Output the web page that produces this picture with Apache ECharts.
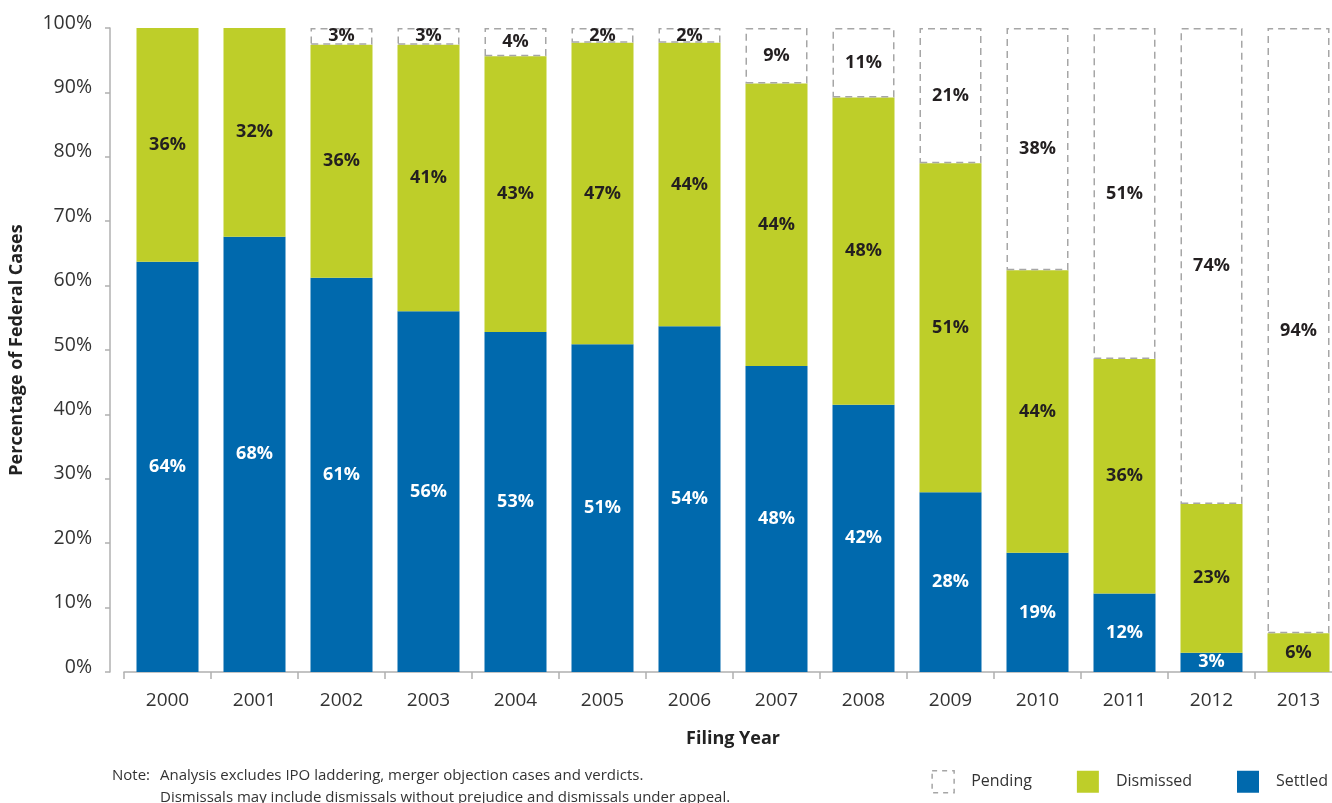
<!DOCTYPE html>
<html>
<head>
<meta charset="utf-8">
<title>Federal Cases by Filing Year</title>
<script src="https://cdn.jsdelivr.net/npm/echarts@6/dist/echarts.min.js"></script>
<style>
  html, body { margin: 0; padding: 0; background: #fff; }
  #chart { width: 1332px; height: 803px; }
</style>
</head>
<body>
<div id="chart"></div>
<script>
// filing years (x categories)
const years = ['2000', '2001', '2002', '2003', '2004', '2005', '2006',
               '2007', '2008', '2009', '2010', '2011', '2012', '2013'];

// shares of federal cases, %
const settled   = [63.7, 67.6, 61.2, 56.0, 52.8, 50.9, 53.7, 47.5, 41.5, 27.9, 18.5, 12.2, 3.0, 0];
const dismissed = [36.3, 32.4, 36.2, 41.4, 42.8, 46.8, 44.0, 43.9, 47.7, 51.1, 43.9, 36.4, 23.1, 6.0];
const pending   = [0, 0, 2.6, 2.6, 4.4, 2.3, 2.3, 8.6, 10.8, 21.0, 37.6, 51.4, 73.9, 94.0];

// y axis ticks 0..100 step 10
const yMin = 0, yMax = 100, yStep = 10;

const BLUE = '#0069ad';
const GREEN = '#bece29';
const GREY = '#a6a6a6';
const FONT = '"Open Sans", "Noto Sans", sans-serif';

// zero-size segments are not drawn
const toData = arr => arr.map(v => (v > 0 ? v : '-'));

const pctLabel = (color) => ({
    show: true,
    position: 'inside',
    color: color,
    fontFamily: FONT,
    fontWeight: 'bold',
    fontSize: 18,
    formatter: p => Math.round(p.value) + '%'
});

const chart = echarts.init(document.getElementById('chart'));

const option = {
    animation: false,
    textStyle: { fontFamily: FONT },
    grid: {
        left: 124, right: -10, top: 28, bottom: 131,
        containLabel: false,
        outerBoundsMode: 'none'
    },
    legend: {
        data: [
            { name: 'Pending', itemStyle: { color: '#fff', borderColor: GREY, borderWidth: 1.5, borderType: [5, 5] } },
            { name: 'Dismissed' },
            { name: 'Settled' }
        ],
        right: 4,
        top: 770,
        padding: 0,
        icon: 'rect',
        itemWidth: 22,
        itemHeight: 22,
        itemGap: 45,
        selectedMode: false,
        textStyle: { fontSize: 16, color: '#333', fontFamily: FONT, padding: [0, 0, 0, 12] }
    },
    xAxis: {
        type: 'category',
        data: years,
        name: 'Filing Year',
        nameLocation: 'middle',
        nameGap: 58,
        nameTextStyle: { fontSize: 18, fontWeight: 'bold', color: '#222', fontFamily: FONT },
        axisLine: { lineStyle: { color: '#b0b0b0', width: 1.5 } },
        axisTick: { show: true, length: 7, lineStyle: { color: '#b0b0b0', width: 1.5 } },
        axisLabel: { fontSize: 19, color: '#333', margin: 19, fontFamily: FONT },
        splitLine: { show: false }
    },
    yAxis: {
        type: 'value',
        min: yMin,
        max: yMax,
        interval: yStep,
        offset: 14,
        name: 'Percentage of Federal Cases',
        nameLocation: 'middle',
        nameGap: 84,
        nameTextStyle: { fontSize: 18, fontWeight: 'bold', color: '#222', fontFamily: FONT },
        axisLine: { show: true, lineStyle: { color: '#b0b0b0', width: 1.5 } },
        axisTick: { show: true, length: 5, lineStyle: { color: '#b0b0b0', width: 1.5 } },
        axisLabel: {
            fontSize: 19.5, color: '#333', margin: 18, fontFamily: FONT,
            verticalAlign: 'bottom',
            lineHeight: 10,
            formatter: '{value}%'
        },
        splitLine: { show: false }
    },
    series: [
        {
            name: 'Settled',
            type: 'bar',
            stack: 'total',
            barWidth: 62,
            data: toData(settled),
            itemStyle: { color: BLUE },
            label: pctLabel('#fff'),
            emphasis: { disabled: true }
        },
        {
            name: 'Dismissed',
            type: 'bar',
            stack: 'total',
            barWidth: 62,
            data: toData(dismissed),
            itemStyle: { color: GREEN },
            label: pctLabel('#231f20'),
            emphasis: { disabled: true }
        },
        {
            name: 'Pending',
            type: 'bar',
            stack: 'total',
            barWidth: 62,
            data: toData(pending),
            itemStyle: {
                color: '#fff',
                borderColor: GREY,
                borderWidth: 1.5,
                borderType: [7, 5]
            },
            label: pctLabel('#231f20'),
            emphasis: { disabled: true }
        }
    ],
    graphic: [
        {
            type: 'text',
            left: 112,
            top: 765,
            style: { text: 'Note:', fontSize: 15, lineHeight: 22, fill: '#333', fontFamily: FONT }
        },
        {
            type: 'text',
            left: 160,
            top: 765,
            style: {
                text: 'Analysis excludes IPO laddering, merger objection cases and verdicts.\n' +
                      'Dismissals may include dismissals without prejudice and dismissals under appeal.',
                fontSize: 15,
                lineHeight: 22,
                fill: '#333',
                fontFamily: FONT
            }
        }
    ]
};

chart.setOption(option);
</script>
</body>
</html>
